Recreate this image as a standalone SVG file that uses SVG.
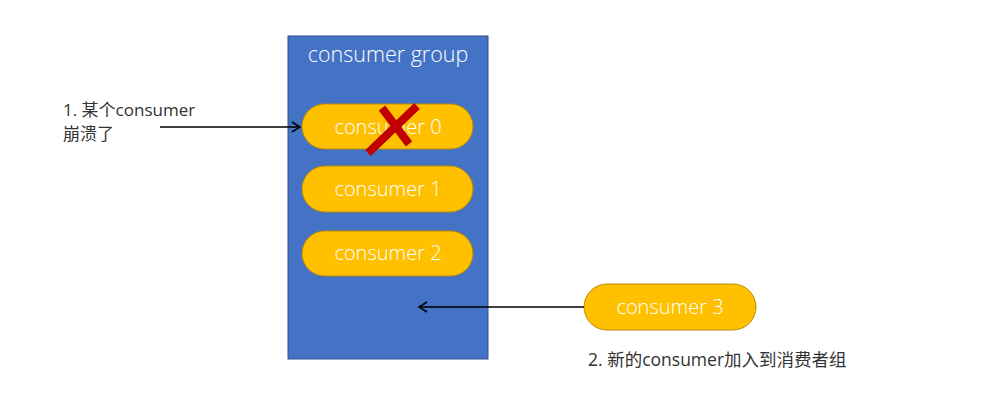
<svg xmlns="http://www.w3.org/2000/svg" width="982" height="408" viewBox="0 0 982 408">
<style>
.pill{fill:#FFC000;stroke:#BC8C00;stroke-width:1}
.pt{font-family:"Open Sans","Noto Sans",sans-serif;font-weight:300;font-size:20px;fill:#fff;text-anchor:middle}
.lbl{font-family:"Open Sans","Noto Sans CJK SC",sans-serif;font-size:17px;fill:#333}
.conn{stroke:#000;stroke-width:1.5;fill:none}
</style>
<defs>
<marker id="ah" markerWidth="12" markerHeight="12" refX="10" refY="6" orient="auto" markerUnits="userSpaceOnUse">
<path d="M2,1 L10,6 L2,11" fill="none" stroke="#000" stroke-width="1.5"/>
</marker>
</defs>
<rect width="982" height="408" fill="#fff"/>
<g id="group">
<rect x="288" y="36" width="200" height="323" fill="#4472C4" stroke="#2F528F" stroke-width="1"/>
<text x="388" y="62" class="pt" style="font-size:21.5px">consumer group</text>
</g>
<g id="consumer0">
<rect x="302" y="104" width="171" height="45" rx="22.5" class="pill"/>
<text x="388" y="134" class="pt">consumer 0</text>
</g>
<g id="cross">
<path d="M417,106 L368,153 M382,108 L409,144" stroke="#C00000" stroke-width="8" stroke-linecap="butt" fill="none"/>
</g>
<g id="consumer1">
<rect x="302" y="166" width="171" height="46" rx="23" class="pill"/>
<text x="388" y="196" class="pt">consumer 1</text>
</g>
<g id="consumer2">
<rect x="302" y="231" width="171" height="45" rx="22.5" class="pill"/>
<text x="388" y="260" class="pt">consumer 2</text>
</g>
<g id="consumer3">
<rect x="584" y="284" width="172" height="46" rx="23" class="pill"/>
<text x="670" y="314" class="pt">consumer 3</text>
</g>
<g id="label1">
<text x="63" y="116" class="lbl">1. 某个consumer</text>
<text x="63" y="140" class="lbl">崩溃了</text>
</g>
<g id="label2">
<text x="588" y="366" class="lbl" style="font-size:17.5px">2. 新的consumer加入到消费者组</text>
</g>
<g id="connectors">
<line x1="160" y1="127" x2="300" y2="127" class="conn" marker-end="url(#ah)"/>
<line x1="584" y1="307" x2="419" y2="307" class="conn" marker-end="url(#ah)"/>
</g>
</svg>
